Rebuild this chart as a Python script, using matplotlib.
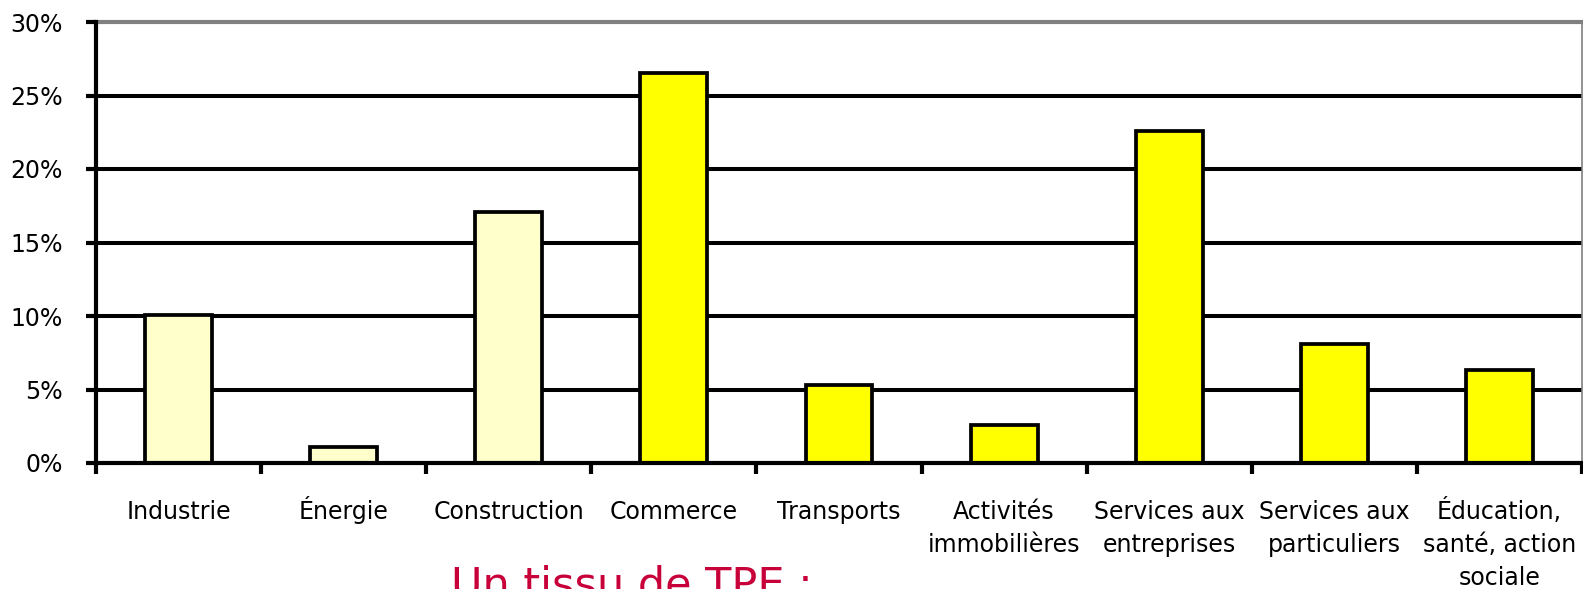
import matplotlib.pyplot as plt
import matplotlib.transforms as mtransforms
import numpy as np
from matplotlib.ticker import PercentFormatter

# Data
sectors = ['Industrie', 'Énergie', 'Construction', 'Commerce', 'Transports',
           'Activités\nimmobilières', 'Services aux\nentreprises',
           'Services aux\nparticuliers', 'Éducation,\nsanté, action\nsociale']
shares = [10.1, 1.1, 17.1, 26.5, 5.3, 2.6, 22.6, 8.1, 6.3]
colors = ['#FFFFCC'] * 3 + ['#FFFF00'] * 6

plt.rcParams['font.family'] = ['DejaVu Sans']

fig = plt.figure(figsize=(15.83, 5.89), dpi=100)
ax = fig.add_axes([96 / 1583, 1 - 463 / 589, 1486 / 1583, 441 / 589])

x = np.arange(len(sectors))
ax.bar(x, shares, width=0.405, color=colors, edgecolor='black', linewidth=2.7, zorder=3)

ax.set_xlim(-0.5, len(sectors) - 0.5)
ax.set_ylim(0, 30)
ax.set_yticks(range(0, 31, 5))
ax.yaxis.set_major_formatter(PercentFormatter(decimals=0))

# gridlines: black, except grey at top
for v in range(5, 30, 5):
    ax.axhline(v, color='black', linewidth=2.9, zorder=1)
ax.axhline(30, color='#808080', linewidth=3, zorder=1, clip_on=False)

ax.spines['top'].set_visible(False)
ax.spines['right'].set_color('#808080')
ax.spines['right'].set_linewidth(1.2)
ax.spines['left'].set_linewidth(3)
ax.spines['bottom'].set_linewidth(3)
ax.spines['left'].set_zorder(4)
ax.spines['bottom'].set_zorder(4)

# ticks between categories, labels drawn line by line so baselines line up
ax.set_xticks(np.arange(-0.5, len(sectors), 1.0))
ax.set_xticklabels([])
ax.tick_params(axis='x', which='major', length=8, width=3, direction='out')
ax.tick_params(axis='y', length=7, width=3, labelsize=17, pad=17)
ax.spines['left'].set_bounds(0, 30)

base = mtransforms.blended_transform_factory(ax.transData, ax.transAxes)
for i, name in enumerate(sectors):
    for k, line in enumerate(name.split('\n')):
        off = mtransforms.ScaledTranslation(0, -(56 + 33 * k) / 100, fig.dpi_scale_trans)
        ax.text(i, 0, line, transform=base + off, ha='center', va='baseline',
                fontsize=17, clip_on=False)

fig.text(0.399, -0.015, 'Un tissu de TPE :', color='#C8003A', fontsize=31,
         ha='center', va='baseline')

fig.savefig('out.png', dpi=100)
